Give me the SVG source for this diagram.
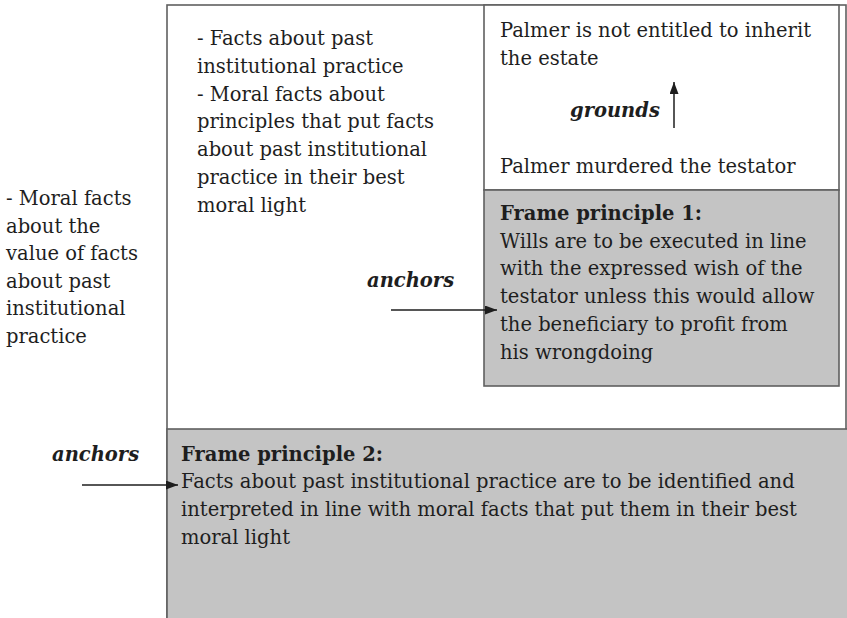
<svg xmlns="http://www.w3.org/2000/svg" width="847" height="618" viewBox="0 0 847 618">
<defs>
<style>
.t{font-family:"DejaVu Serif","Liberation Serif",serif;font-size:19.5px;fill:#1e1e1e}
.b{font-weight:bold}
.bi{font-weight:bold;font-style:italic}
.box{stroke:#606060;stroke-width:1.6}
.w{fill:#ffffff}
.g{fill:#c4c4c4}
.c{stroke:#1e1e1e;stroke-width:1.5;fill:none}
</style>
<marker id="ah" markerUnits="userSpaceOnUse" markerWidth="12" markerHeight="9" refX="12" refY="4.5" orient="auto">
<path d="M0,0 L12,4.5 L0,9 z" fill="#1e1e1e"/>
</marker>
</defs>
<rect width="847" height="618" fill="#ffffff"/>
<g id="outer">
<rect class="box w" x="167" y="5" width="679" height="660"/>
<text class="t"><tspan x="197" y="45">- Facts about past</tspan><tspan x="197" y="72.8">institutional practice</tspan><tspan x="197" y="100.6">- Moral facts about</tspan><tspan x="197" y="128.4">principles that put facts</tspan><tspan x="197" y="156.2">about past institutional</tspan><tspan x="197" y="184">practice in their best</tspan><tspan x="197" y="211.8">moral light</tspan></text>
</g>
<g id="left-text">
<text class="t"><tspan x="6" y="205">- Moral facts</tspan><tspan x="6" y="232.5">about the</tspan><tspan x="6" y="260">value of facts</tspan><tspan x="6" y="287.5">about past</tspan><tspan x="6" y="315">institutional</tspan><tspan x="6" y="342.5">practice</tspan></text>
</g>
<g id="palmer">
<rect class="box w" x="484" y="5" width="355" height="185"/>
<text class="t"><tspan x="500" y="37">Palmer is not entitled to inherit</tspan><tspan x="500" y="64.5">the estate</tspan></text>
<text class="t bi" x="570" y="117">grounds</text>
<text class="t" x="500" y="173">Palmer murdered the testator</text>
</g>
<g id="frame1">
<rect class="box g" x="484" y="190" width="355" height="196"/>
<text class="t"><tspan class="b" x="500" y="220">Frame principle 1:</tspan><tspan x="500" y="247.7">Wills are to be executed in line</tspan><tspan x="500" y="275.4">with the expressed wish of the</tspan><tspan x="500" y="303">testator unless this would allow</tspan><tspan x="500" y="330.8">the beneficiary to profit from</tspan><tspan x="500" y="358.5">his wrongdoing</tspan></text>
</g>
<g id="frame2">
<rect class="box g" x="167" y="429" width="690" height="200"/>
<text class="t"><tspan class="b" x="181" y="460.7">Frame principle 2:</tspan><tspan x="181" y="488.4">Facts about past institutional practice are to be identified and</tspan><tspan x="181" y="516">interpreted in line with moral facts that put them in their best</tspan><tspan x="181" y="543.8">moral light</tspan></text>
</g>
<g id="connectors">
<line class="c" x1="674" y1="128" x2="674" y2="82" marker-end="url(#ah)"/>
<line class="c" x1="391" y1="310" x2="497" y2="310" marker-end="url(#ah)"/>
<line class="c" x1="82" y1="485" x2="178" y2="485" marker-end="url(#ah)"/>
<text class="t bi" x="367" y="287">anchors</text>
<text class="t bi" x="52" y="461">anchors</text>
</g>
</svg>
